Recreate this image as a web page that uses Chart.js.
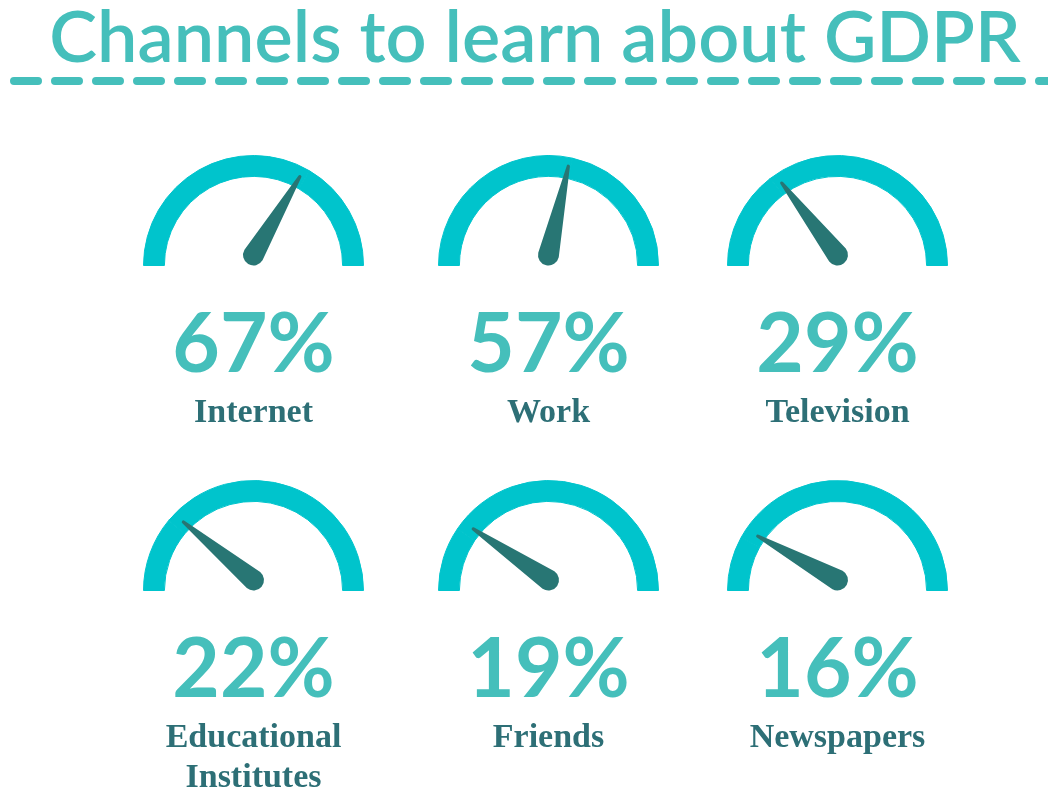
<!DOCTYPE html>
<html>
<head>
<meta charset="utf-8">
<script src="https://cdn.jsdelivr.net/npm/chart.js@4/dist/chart.umd.min.js"></script>
<style>
  html, body { margin: 0; padding: 0; background: #ffffff; }
  #page { position: relative; width: 1048px; height: 797px; overflow: hidden; }
  #title {
    position: absolute; left: 0; top: -2px; width: 1070px; margin: 0;
    text-align: center; white-space: nowrap;
    font-family: Lato, "Open Sans", sans-serif; font-weight: 600;
    font-size: 72px; line-height: 72px; color: #45bfbb;
  }
  #rule { position: absolute; left: 0; top: 72px; }
  .gauge { position: absolute; }
</style>
</head>
<body>
<div id="page">
  <h1 id="title">Channels to learn about GDPR</h1>
  <svg id="rule" width="1048" height="20">
    <line x1="14" y1="9" x2="1070" y2="9" stroke="#45bfbb" stroke-width="8"
          stroke-linecap="round" stroke-dasharray="24 17"/>
  </svg>
</div>
<script>
// Share of respondents per channel (%)
const channels = ['Internet', 'Work', 'Television', 'Educational Institutes', 'Friends', 'Newspapers'];
const shares = [67, 57, 29, 22, 19, 16];
// Caption lines under each gauge
const captionLines = [['Internet'], ['Work'], ['Television'], ['Educational', 'Institutes'], ['Friends'], ['Newspapers']];

// Grid of gauge centres (base of each semicircle)
const colX = [253, 548, 837];
const rowY = [266, 591];

const ARC_COLOR = '#00c4cc';
const NEEDLE_COLOR = '#287674';
const PCT_COLOR = '#45bfbb';
const CAPTION_COLOR = '#2d6f76';

// Needle + value + caption drawn on top of each half-doughnut
const gaugeDecor = {
  id: 'gaugeDecor',
  afterDraw(chart) {
    const arc = chart.getDatasetMeta(0).data[0];
    if (!arc) return;
    const value = chart.data.datasets[0].data[0];
    const cx = arc.x, cy = arc.y;
    const ctx = chart.ctx;

    // needle: pointing at the value on a 0..100 half dial
    const theta = Math.PI * (1 - value / 100);
    const r0 = 10.5, rt = 1.6, len = 91;
    const px = cx, py = cy - r0;
    const tx = px + len * Math.cos(theta), ty = py - len * Math.sin(theta);
    const nx = Math.sin(theta), ny = Math.cos(theta);
    const a = Math.PI / 2 - theta;
    ctx.save();
    ctx.fillStyle = NEEDLE_COLOR;
    ctx.beginPath();
    ctx.moveTo(px + nx * r0, py + ny * r0);
    ctx.lineTo(tx + nx * rt, ty + ny * rt);
    ctx.arc(tx, ty, rt, a, a - Math.PI, true);
    ctx.lineTo(px - nx * r0, py - ny * r0);
    ctx.arc(px, py, r0, a - Math.PI, a - 2 * Math.PI, true);
    ctx.closePath();
    ctx.fill();

    // percentage
    ctx.textAlign = 'center';
    ctx.textBaseline = 'alphabetic';
    ctx.fillStyle = PCT_COLOR;
    ctx.font = '700 82px Lato, "Open Sans", sans-serif';
    ctx.fillText(value + '%', cx, cy + 106);

    // caption
    ctx.fillStyle = CAPTION_COLOR;
    ctx.font = '700 34px "Liberation Serif", "DejaVu Serif", serif';
    const lines = chart.options.plugins.gaugeDecor.lines;
    lines.forEach((line, i) => ctx.fillText(line, cx, cy + 156 + i * 40));
    ctx.restore();
  }
};

function buildGauges() {
  const page = document.getElementById('page');
  shares.forEach((value, i) => {
    const cx = colX[i % 3], cy = rowY[Math.floor(i / 3)];
    const canvas = document.createElement('canvas');
    canvas.className = 'gauge';
    canvas.width = 291;
    canvas.height = 331;
    canvas.style.left = (cx - 145.5) + 'px';
    canvas.style.top = (cy - 116) + 'px';
    canvas.setAttribute('aria-label', channels[i] + ' ' + value + '%');
    page.appendChild(canvas);

    new Chart(canvas, {
      type: 'doughnut',
      data: {
        labels: [channels[i], 'Other'],
        datasets: [{
          data: [value, 100 - value],
          backgroundColor: [ARC_COLOR, ARC_COLOR],
          borderColor: ARC_COLOR,
          borderWidth: 1,
          hoverOffset: 0
        }]
      },
      options: {
        responsive: false,
        animation: false,
        events: [],
        rotation: -90,
        circumference: 180,
        cutout: '81%',
        layout: { padding: { top: 5, bottom: 215, left: 35, right: 35 } },
        plugins: {
          legend: { display: false },
          tooltip: { enabled: false },
          gaugeDecor: { lines: captionLines[i] }
        }
      },
      plugins: [gaugeDecor]
    });
  });
}

Promise.all([
  document.fonts.load('700 82px Lato'),
  document.fonts.load('700 34px "Liberation Serif"')
]).then(buildGauges, buildGauges);
</script>
</body>
</html>
